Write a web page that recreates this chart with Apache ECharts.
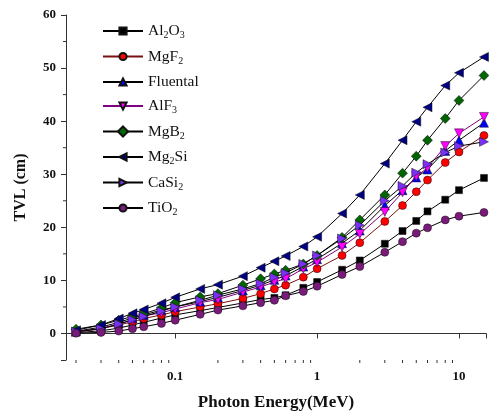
<!DOCTYPE html>
<html lang="en">

<head>
    <meta charset="UTF-8">
    <title>TVL</title>
    <script src="https://cdn.jsdelivr.net/npm/echarts@6/dist/echarts.min.js"></script>
    <style>
        body {
            margin: 0;
            background: #fff;
        }

        #chart {
            width: 489px;
            height: 416px;
        }
    </style>
</head>

<body>
    <div id="chart"></div>

    <script>
        const energies = [0.02, 0.03, 0.04, 0.05, 0.06, 0.08, 0.1, 0.15, 0.2, 0.3, 0.4, 0.5, 0.6, 0.8, 1, 1.5, 2, 3, 4, 5, 6, 8, 10, 15];

        const al2o3 = [0.15, 0.5, 1.0, 1.6, 2.1, 2.9, 3.5, 4.3, 4.9, 5.75, 6.4, 6.7, 7.2, 8.6, 9.7, 12.0, 13.75, 16.9, 19.3, 21.2, 23.0, 25.2, 27.0, 29.3];
        const mgf2 = [0.3, 0.9, 1.6, 2.2, 2.8, 3.5, 4.1, 5.0, 5.6, 6.6, 7.5, 8.4, 9.1, 10.6, 12.2, 14.7, 17.1, 21.1, 24.1, 26.7, 28.9, 32.2, 34.2, 37.3];
        const fluental = [0.4, 1.2, 2.1, 2.9, 3.5, 4.4, 5.0, 6.0, 6.8, 8.1, 9.1, 10.1, 10.9, 12.6, 14.0, 17.0, 19.4, 24.1, 27.0, 29.4, 30.9, 34.4, 36.4, 39.7];
        const alf3 = [0.3, 0.9, 1.8, 2.5, 3.3, 3.9, 4.6, 5.8, 6.4, 7.8, 8.75, 9.7, 10.3, 12.2, 13.4, 16.3, 18.75, 22.9, 26.6, 29.6, 31.2, 35.3, 37.7, 40.8];
        const mgb2 = [0.8, 1.6, 2.5, 3.2, 3.7, 4.8, 5.8, 6.9, 7.5, 9.1, 10.3, 11.2, 11.9, 13.1, 14.7, 18.1, 21.4, 26.1, 30.2, 33.4, 36.4, 40.5, 43.9, 48.6];
        const mg2si = [0.6, 1.6, 2.8, 3.8, 4.5, 5.7, 6.8, 8.4, 9.2, 10.8, 12.4, 13.6, 14.6, 16.4, 18.2, 22.6, 26.1, 32.0, 36.4, 39.9, 42.6, 46.7, 49.1, 52.1];
        const casi2 = [0.3, 0.9, 1.8, 2.6, 3.2, 4.2, 5.0, 6.25, 7.2, 8.4, 9.4, 10.6, 11.4, 13.1, 14.7, 17.9, 20.4, 25.0, 27.8, 30.3, 31.9, 34.1, 35.3, 36.1];
        const tio2 = [0.05, 0.2, 0.45, 0.9, 1.25, 1.9, 2.5, 3.6, 4.4, 5.2, 5.8, 6.25, 7.1, 7.9, 8.9, 11.1, 12.6, 15.3, 17.3, 18.9, 19.9, 21.4, 22.1, 22.8];

        const names = ['Al2O3', 'MgF2', 'Fluental', 'AlF3', 'MgB2', 'Mg2Si', 'CaSi2', 'TiO2'];
        const legendLabels = {
            'Al2O3': 'Al{sub|2}O{sub|3}',
            'MgF2': 'MgF{sub|2}',
            'Fluental': 'Fluental',
            'AlF3': 'AlF{sub|3}',
            'MgB2': 'MgB{sub|2}',
            'Mg2Si': 'Mg{sub|2}Si',
            'CaSi2': 'CaSi{sub|2}',
            'TiO2': 'TiO{sub|2}'
        };

        const xMinorTicks = [0.02, 0.03, 0.04, 0.05, 0.06, 0.07, 0.08, 0.09, 0.2, 0.3, 0.4, 0.5, 0.6, 0.7, 0.8, 0.9, 2, 3, 4, 5, 6, 7, 8, 9];
        const yMinorTicks = [5, 15, 25, 35, 45, 55];

        const X_MIN = 0.017, X_MAX = 15.5, Y_MIN = -5, Y_MAX = 60;
        const serif = '"Liberation Serif", "Times New Roman", serif';

        const styles = [
            { values: al2o3, symbol: 'rect', rotate: 0, size: 7, color: '#000000', line: '#000000' },
            { values: mgf2, symbol: 'circle', rotate: 0, size: 8, color: '#ff0000', line: '#7a1010' },
            { values: fluental, symbol: 'triangle', rotate: 0, size: 9, color: '#0000ff', line: '#000000' },
            { values: alf3, symbol: 'triangle', rotate: 180, size: 9, color: '#ff00ff', line: '#800080' },
            { values: mgb2, symbol: 'rect', rotate: 45, size: 7, color: '#006400', line: '#000000' },
            { values: mg2si, symbol: 'triangle', rotate: 90, size: 9, color: '#000080', line: '#000000' },
            { values: casi2, symbol: 'triangle', rotate: -90, size: 9, color: '#7b2ff7', line: '#000000' },
            { values: tio2, symbol: 'circle', rotate: 0, size: 8, color: '#7a1a7a', line: '#000000' }
        ];

        const lineSeries = names.map((name, i) => ({
            name: name,
            type: 'line',
            data: energies.map((e, j) => [e, styles[i].values[j]]),
            symbol: styles[i].symbol,
            symbolSize: styles[i].size,
            symbolRotate: styles[i].rotate,
            itemStyle: {
                color: styles[i].color,
                borderColor: '#111',
                borderWidth: 0.5
            },
            lineStyle: {
                color: styles[i].line,
                width: 1
            },
            z: 3 + i
        }));

        // short minor ticks, drawn through the axes
        const tickSeries = (ticks, horizontal) => ({
            type: 'custom',
            silent: true,
            clip: false,
            data: ticks.map(v => horizontal ? [v, Y_MIN] : [X_MIN, v]),
            renderItem: (params, api) => {
                const p = api.coord([api.value(0), api.value(1)]);
                const shape = horizontal
                    ? { x1: p[0], y1: p[1], x2: p[0], y2: p[1] + 3 }
                    : { x1: p[0], y1: p[1], x2: p[0] - 3, y2: p[1] };
                return { type: 'line', shape: shape, style: { stroke: '#333', lineWidth: 1 } };
            }
        });

        const chart = echarts.init(document.getElementById('chart'));

        chart.setOption({
            animation: false,
            grid: {
                left: 66,
                right: 1,
                top: 15,
                bottom: 54
            },
            legend: {
                data: names,
                orient: 'vertical',
                left: 97,
                top: 18,
                itemWidth: 40,
                itemHeight: 9,
                itemGap: 8,
                formatter: name => legendLabels[name],
                textStyle: {
                    fontFamily: serif,
                    fontSize: 15.5,
                    color: '#111',
                    rich: {
                        sub: {
                            fontFamily: serif,
                            fontSize: 10,
                            color: '#111',
                            padding: [9, 0, 0, 0]
                        }
                    }
                }
            },
            xAxis: {
                type: 'log',
                min: X_MIN,
                max: X_MAX,
                name: 'Photon Energy(MeV)',
                nameLocation: 'middle',
                nameGap: 34,
                nameTextStyle: {
                    fontFamily: serif,
                    fontSize: 17,
                    fontWeight: 'bold',
                    color: '#111'
                },
                axisLine: { lineStyle: { color: '#333', width: 1 } },
                axisTick: { length: 5, lineStyle: { color: '#333' } },
                axisLabel: {
                    margin: 10,
                    fontFamily: serif,
                    fontSize: 13,
                    fontWeight: 'bold',
                    color: '#111',
                    formatter: value => {
                        const r = Math.round(Math.log10(value));
                        return Math.abs(Math.log10(value) - r) < 1e-6 ? String(Math.pow(10, r)) : '';
                    }
                },
                splitLine: { show: false }
            },
            yAxis: {
                type: 'value',
                min: Y_MIN,
                max: Y_MAX,
                splitNumber: 6,
                name: 'TVL (cm)',
                nameLocation: 'middle',
                nameGap: 37,
                nameTextStyle: {
                    fontFamily: serif,
                    fontSize: 16,
                    fontWeight: 'bold',
                    color: '#111'
                },
                axisLine: { show: true, lineStyle: { color: '#333', width: 1 } },
                axisTick: { show: true, length: 5, lineStyle: { color: '#333' } },
                axisLabel: {
                    margin: 10,
                    fontFamily: serif,
                    fontSize: 13,
                    fontWeight: 'bold',
                    color: '#111',
                    formatter: value => value % 10 === 0 ? String(value) : ''
                },
                splitLine: { show: false }
            },
            series: [
                ...lineSeries,
                tickSeries(xMinorTicks, true),
                tickSeries(yMinorTicks, false)
            ]
        });
    </script>
</body>

</html>
